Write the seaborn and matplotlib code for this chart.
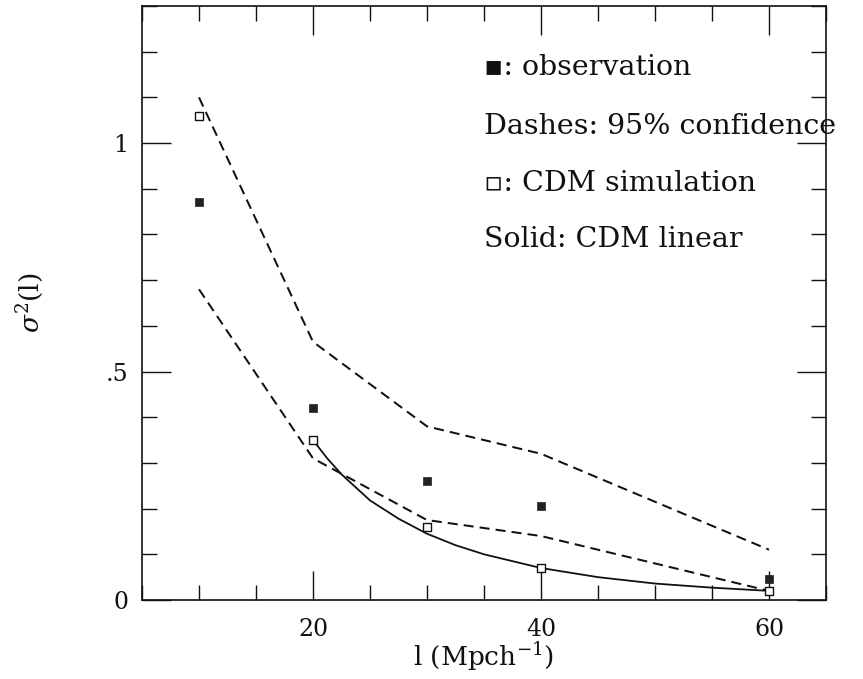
import matplotlib
matplotlib.use("Agg")
import matplotlib.pyplot as plt
from matplotlib.ticker import FixedLocator, FixedFormatter, MultipleLocator
import seaborn as sns

# Cell size l (Mpc/h) at which the variance was measured
scale_l = [10, 20, 30, 40, 60]
# Observed variance sigma^2(l)
obs_var = [0.87, 0.42, 0.26, 0.205, 0.045]
# CDM N-body simulation variance
cdm_sim_var = [1.06, 0.35, 0.16, 0.07, 0.02]
# 95% confidence band of the simulations
conf_upper = [1.10, 0.565, 0.38, 0.32, 0.11]
conf_lower = [0.68, 0.31, 0.175, 0.14, 0.02]
# Linear-theory CDM prediction
linear_l = [20, 21.25, 22.5, 25, 27.5, 30, 32.5, 35, 40, 45, 50, 55, 60]
linear_var = [0.35, 0.31, 0.275, 0.218, 0.178, 0.145, 0.12, 0.10, 0.07, 0.05, 0.036, 0.027, 0.02]

x_major = [20, 40, 60]
x_labels = ["20", "40", "60"]
y_major = [0, 0.5, 1.0]
y_labels = ["0", ".5", "1"]

sns.set_theme(style="ticks")
plt.rcParams["font.family"] = ["DejaVu Serif", "DejaVu Sans"]
plt.rcParams["mathtext.fontset"] = "dejavuserif"

W, H = 863, 679
fig = plt.figure(figsize=(W / 100, H / 100), dpi=100)
fig.patch.set_facecolor("white")
left, right, top, bottom = 142, 826, 6, 600
ax = fig.add_axes([left / W, 1 - bottom / H, (right - left) / W, (bottom - top) / H])
ax.set_facecolor("white")

ink = "#111111"
dash = (0, (5.0, 3.0))

# confidence band (dashed)
sns.lineplot(x=scale_l, y=conf_upper, ax=ax, color=ink, lw=1.45,
             linestyle=dash, estimator=None, sort=False)
sns.lineplot(x=scale_l, y=conf_lower, ax=ax, color=ink, lw=1.45,
             linestyle=dash, estimator=None, sort=False)
# linear theory (solid)
sns.lineplot(x=linear_l, y=linear_var, ax=ax, color=ink, lw=1.3,
             estimator=None, sort=False)

# simulation points (open squares) and observations (filled squares)
sns.scatterplot(x=scale_l, y=cdm_sim_var, ax=ax, marker="s", s=34,
                facecolor="white", edgecolor=ink, linewidth=1.0, zorder=5)
sns.scatterplot(x=scale_l, y=obs_var, ax=ax, marker="s", s=30,
                color="#222222", edgecolor="#222222", linewidth=0.5, zorder=6)

ax.set_xlim(5, 65)
ax.set_ylim(0, 1.3)

ax.xaxis.set_major_locator(FixedLocator(x_major))
ax.xaxis.set_major_formatter(FixedFormatter(x_labels))
ax.xaxis.set_minor_locator(MultipleLocator(5))
ax.yaxis.set_major_locator(FixedLocator(y_major))
ax.yaxis.set_major_formatter(FixedFormatter(y_labels))
ax.yaxis.set_minor_locator(MultipleLocator(0.1))

ax.tick_params(which="both", direction="in", top=True, right=True,
               color=ink, width=1.0)
ax.tick_params(which="major", length=21, labelsize=17, labelcolor=ink)
ax.tick_params(which="minor", length=10.5)
ax.tick_params(axis="x", which="major", pad=13)
ax.tick_params(axis="y", which="major", pad=10)

for sp in ax.spines.values():
    sp.set_color(ink)
    sp.set_linewidth(1.2)

ax.set_xlabel(r"l (Mpch$^{-1}$)", fontsize=19, color=ink)
ax.xaxis.set_label_coords(0.5, -0.068)
ax.set_ylabel(r"$\sigma^2$(l)", fontsize=19, color=ink)
ax.yaxis.set_label_coords(-0.14, 0.5)

notes = [
    (1.165, "\u25aa: observation"),
    (1.037, "Dashes: 95% confidence"),
    (0.912, "\u25ab: CDM simulation"),
    (0.790, "Solid: CDM linear"),
]
for yv, txt in notes:
    ax.text(35, yv, txt, fontsize=20.5, color=ink, va="center", ha="left",
            clip_on=False)

fig.savefig("out.png", dpi=100, facecolor="white")
